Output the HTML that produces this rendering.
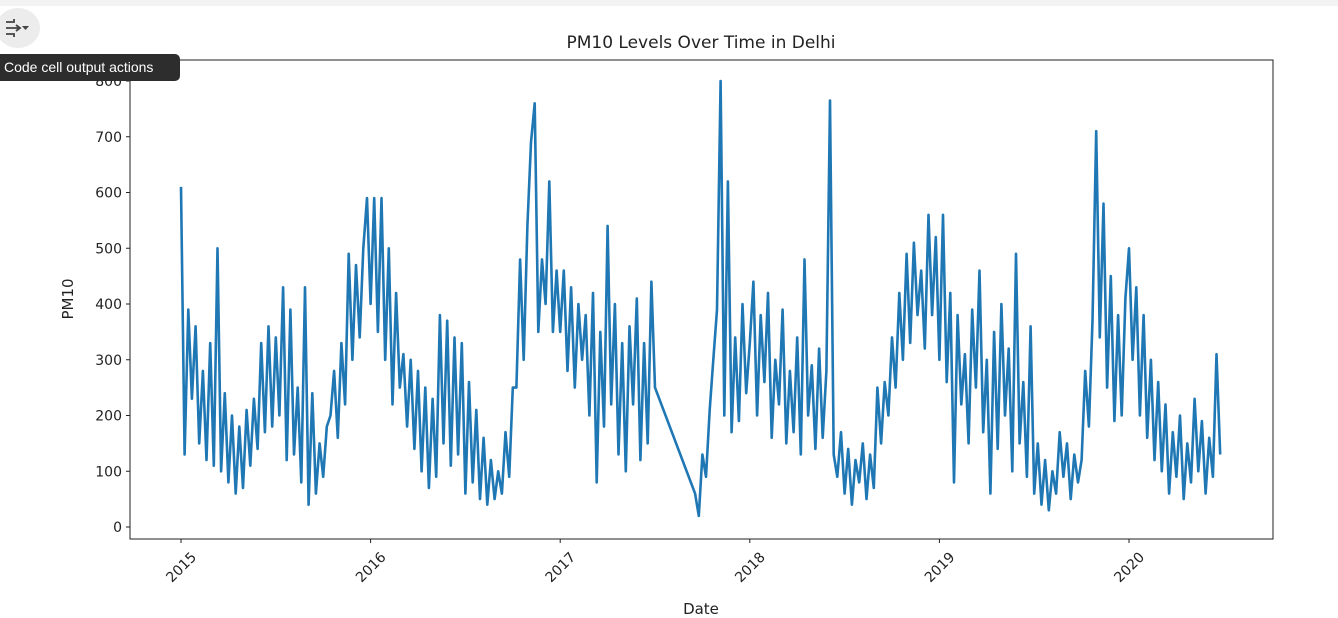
<!DOCTYPE html>
<html><head><meta charset="utf-8"><style>
body{margin:0;background:#fff;width:1338px;height:618px;overflow:hidden;position:relative;font-family:"DejaVu Sans","Liberation Sans",sans-serif}
#topbar{position:absolute;left:0;top:0;width:1338px;height:6px;background:#f3f3f3}
#btn{position:absolute;left:-4px;top:8px;width:44px;height:40px;border-radius:50%;background:#ececec}
#tip{position:absolute;left:0;top:54px;width:180px;height:27px;background:#2d2d2d;color:#fff;font-family:"Liberation Sans",sans-serif;font-size:14px;line-height:27px;padding-left:4px;box-sizing:border-box;border-radius:0 5px 5px 0;z-index:2}
svg{position:absolute;left:0;top:0}
</style></head><body>
<div id="topbar"></div>
<div id="btn"><svg width="44" height="40" style="left:0;top:0"><g stroke="#444" stroke-width="1.8" fill="none"><path d="M10 14h8v-3M10 20h14M20 17l4 3-4 3M10 26h8v3"/></g><path d="M26 18h7l-3.5 4z" fill="#444"/></svg></div>
<div id="tip">Code cell output actions</div>
<svg id="chart" width="1338" height="618"></svg>
<script>
const years=[2015,2016,2017,2018,2019,2020];
const yTicks=[0,100,200,300,400,500,600,700,800];
const v2015=[610,130,390,230,360,150,280,120,330,110,500,100,240,80,200,60,180,70,210,110,230,140,330,170,360,180,340,200,430,120,390,130,250,80,430,40,240,60,150,90,180,200,280,160,330,220,490,300,470,340,500,590];
const v2016=[400,590,350,590,300,500,220,420,250,310,180,300,140,280,100,250,70,230,90,380,150,370,110,340,130,330,60,260,80,210,50,160,40,120,50,100,60,170,90,250,250,480,300,540,690,760,350,480,400,620,350,460];
const v2017=[350,460,280,430,250,400,300,380,200,420,80,350,180,540,220,400,130,330,100,360,220,410,120,330,150,440,250,null,null,null,null,null,null,null,null,null,null,60,20,130,90,210,300,390,800,200,620,170,340,190,400,240];
const v2018=[330,440,200,380,260,420,160,300,220,390,150,280,170,340,130,480,200,290,140,320,160,280,765,130,90,170,60,140,40,120,80,150,50,130,70,250,150,260,200,340,250,420,300,490,330,510,380,460,320,560,380,520];
const v2019=[300,560,260,420,80,380,220,310,150,390,250,460,170,300,60,350,140,400,200,320,100,490,150,260,90,360,60,150,40,120,30,100,60,170,90,150,50,130,80,120,280,180,370,710,340,580,250,450,190,380,200,410];
const v2020=[500,300,430,200,380,160,300,120,260,100,220,60,170,90,200,50,150,80,230,100,190,60,160,90,310,130];
const series=[v2015,v2016,v2017,v2018,v2019,v2020];
const svg=document.getElementById('chart');const NS='http://www.w3.org/2000/svg';
const L=130,R=1273,T=60,B=539;
const xs=t=>181+(t-2015)*189.6;
const ys=v=>527-v*0.5575;
function mk(tag,attrs,parent){const e=document.createElementNS(NS,tag);for(const k in attrs)e.setAttribute(k,attrs[k]);(parent||svg).appendChild(e);return e;}
let pts=[];
series.forEach((arr,yi)=>arr.forEach((v,i)=>{if(v!==null)pts.push(xs(years[yi]+i/52).toFixed(1)+','+ys(v).toFixed(1));}));
const line=mk('polyline',{points:pts.join(' '),fill:'none',stroke:'#1f77b4','stroke-width':2.6,'stroke-linejoin':'round'});


const frame=mk('rect',{x:L,y:T,width:R-L,height:B-T,fill:'none',stroke:'#222','stroke-width':1});


yTicks.forEach(v=>{const y=ys(v);
 const tk=mk('line',{x1:L-4,x2:L,y1:y,y2:y,stroke:'#222'});
 
 
 const t=mk('text',{x:L-8,y:y+5,'text-anchor':'end','font-size':14,fill:'#222'});t.textContent=v;
 
 });
years.forEach(yr=>{const x=xs(yr);
 const tk=mk('line',{x1:x,x2:x,y1:B,y2:B+4,stroke:'#222'});
 
 
 const t=mk('text',{x:x,y:572,'text-anchor':'middle','font-size':14,fill:'#222',transform:`rotate(-45 ${x} 567)`});t.textContent=yr;
 
 });
const ti=mk('text',{x:701,y:48,'text-anchor':'middle','font-size':17,fill:'#222'});ti.textContent='PM10 Levels Over Time in Delhi';


const xl=mk('text',{x:701,y:614,'text-anchor':'middle','font-size':15,fill:'#222'});xl.textContent='Date';


const yl=mk('text',{x:73,y:299,'text-anchor':'middle','font-size':15,fill:'#222',transform:'rotate(-90 73 299)'});yl.textContent='PM10';


</script>
</body></html>
